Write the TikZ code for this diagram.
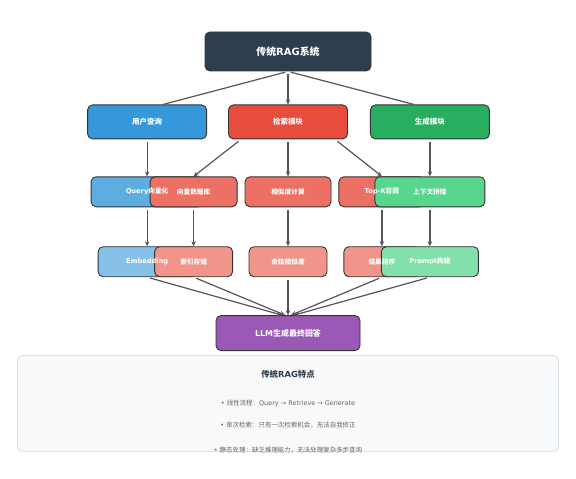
\documentclass[tikz,border=0pt]{standalone}
\usepackage{fontspec}
\setmainfont{DejaVu Sans}
\newfontfamily\zhfont{Noto Sans CJK SC}
\newcommand{\zh}[1]{{\zhfont\mdseries #1}}
\newcommand{\zhb}[1]{{\zhfont\bfseries #1}}
\usetikzlibrary{arrows.meta,positioning}

\definecolor{slateC}{HTML}{2C3E50}
\definecolor{userC}{HTML}{3498DB}
\definecolor{retrC}{HTML}{E74C3C}
\definecolor{genC}{HTML}{27AE60}
\definecolor{blueM}{HTML}{5DADE2}
\definecolor{redM}{HTML}{EC7063}
\definecolor{greenM}{HTML}{58D68D}
\definecolor{blueL}{HTML}{85C1E9}
\definecolor{redL}{HTML}{F1948A}
\definecolor{greenL}{HTML}{82E0AA}
\definecolor{llmC}{HTML}{9B59B6}
\definecolor{edgeC}{HTML}{333333}
\definecolor{lineC}{HTML}{555555}
\definecolor{panelF}{HTML}{F8F9FA}
\definecolor{panelE}{HTML}{DEE2E6}
\definecolor{noteC}{HTML}{666666}

\begin{document}
\begin{tikzpicture}[
  x=1bp, y=-1bp,
  box/.style={
    draw=edgeC,
    rounded corners=5bp,
    line width=0.9bp,
    inner sep=0pt,
    minimum height=30bp
  },
  modbox/.style={
    box,
    minimum width=119bp,
    minimum height=34bp
  },
  lab/.style={
    text=white,
    inner sep=0pt,
    font=\bfseries\fontsize{6.7}{8}\selectfont
  },
  arrow/.style={-{Stealth[length=5bp,width=4.5bp]}, line width=1.2bp, draw=lineC, shorten <=3bp},
  plain/.style={line width=1.2bp, draw=lineC, shorten <=3bp}
]
\useasboundingbox (0,0) rectangle (576,479);

% boxes first, labels after them
\node[box, fill=slateC, minimum width=166bp, minimum height=39bp] (rag) at (288,51.5) {};

\node[modbox, fill=retrC, below=33bp of rag] (retr) {};
\node[modbox, fill=userC, left=21bp of retr] (user) {};
\node[modbox, fill=genC, right=22bp of retr] (gen) {};

\node[box, fill=redM, minimum width=86bp, below=37bp of retr] (sim) {};
\node[box, fill=blueM, minimum width=112bp, below=37bp of user] (qvec) {};
\node[box, fill=redM, minimum width=87bp, left=7bp of sim] (vdb) {};
\node[box, fill=redM, minimum width=86bp, right=7bp of sim] (topk) {};
\node[box, fill=greenM, minimum width=110bp, below=37bp of gen] (ctx) {};

\node[box, fill=blueL, minimum width=98bp, below=39bp of qvec] (emb) {};
\node[box, fill=redL, minimum width=78bp, below=39bp of vdb] (idx) {};
\node[box, fill=redL, minimum width=78bp, below=39bp of sim] (cos) {};
\node[box, fill=redL, minimum width=76bp, below=39bp of topk] (rank) {};
\node[box, fill=greenL, minimum width=97bp, below=39bp of ctx] (prm) {};

\node[box, fill=llmC, minimum width=144bp, minimum height=35bp, below=38bp of cos] (llm) {};

\node[draw=panelE, line width=0.9bp, fill=panelF, rounded corners=5bp,
  minimum width=541bp, minimum height=96bp, below=4bp of llm] (feat) {};

\node[lab, font=\bfseries\fontsize{10}{12}\selectfont] at (rag) {\zhb{传统}RAG\zhb{系统}};
\node[lab, font=\bfseries\fontsize{7.5}{9}\selectfont] at (user) {\zhb{用户查询}};
\node[lab, font=\bfseries\fontsize{7.5}{9}\selectfont] at (retr) {\zhb{检索模块}};
\node[lab, font=\bfseries\fontsize{7.5}{9}\selectfont] at (gen) {\zhb{生成模块}};
\node[lab] at (qvec) {Query\zhb{向量化}};
\node[lab] at (vdb) {\zhb{向量数据库}};
\node[lab] at (sim) {\zhb{相似度计算}};
\node[lab] at (topk) {Top-K\zhb{召回}};
\node[lab] at (ctx) {\zhb{上下文拼接}};
\node[lab] at (emb) {Embedding};
\node[lab] at (idx) {\zhb{索引存储}};
\node[lab] at (cos) {\zhb{余弦相似度}};
\node[lab] at (rank) {\zhb{结果排序}};
\node[lab] at (prm) {Prompt\zhb{构建}};
\node[lab, font=\bfseries\fontsize{8}{10}\selectfont] at (llm) {LLM\zhb{生成最终回答}};

\draw[plain] (rag.south) -- ([xshift=16bp]user.north);
\draw[arrow] (rag.south) -- (retr.north);
\draw[plain] (rag.south) -- ([xshift=-16bp]gen.north);

\draw[arrow] (user.south) -- (qvec.north);
\draw[arrow] ([xshift=13bp]retr.south west) -- (vdb.north);
\draw[arrow] (retr.south) -- (sim.north);
\draw[arrow] ([xshift=-13bp]retr.south east) -- (topk.north);
\draw[arrow] (gen.south) -- (ctx.north);

\draw[arrow] (qvec.south) -- (emb.north);
\draw[arrow] (vdb.south) -- (idx.north);
\draw[arrow] (sim.south) -- (cos.north);
\draw[arrow] (topk.south) -- (rank.north);
\draw[arrow] (ctx.south) -- (prm.north);

\draw[arrow] (emb.south) -- ([xshift=-6bp]llm.north);
\draw[arrow] (idx.south) -- ([xshift=-3bp]llm.north);
\draw[arrow] (cos.south) -- (llm.north);
\draw[arrow] (rank.south) -- ([xshift=3bp]llm.north);
\draw[arrow] (prm.south) -- ([xshift=6bp]llm.north);

\node[text=slateC, font=\bfseries\fontsize{8.4}{10}\selectfont] (ftitle)
  at ([yshift=-19bp]feat.north) {\zhb{传统}RAG\zhb{特点}};
\node[text=noteC, font=\fontsize{6.5}{8}\selectfont] (fone)
  at ([yshift=-48bp]feat.north) {• \zh{线性流程：}Query → Retrieve → Generate};
\node[text=noteC, font=\fontsize{6.5}{8}\selectfont] (ftwo)
  at ([yshift=-70bp]feat.north) {• \zh{单次检索：只有一次检索机会，无法自我修正}};
\node[text=noteC, font=\fontsize{6.5}{8}\selectfont] (fthree)
  at ([yshift=-95bp]feat.north) {• \zh{静态处理：缺乏推理能力，无法处理复杂多步查询}};

\end{tikzpicture}
\end{document}
